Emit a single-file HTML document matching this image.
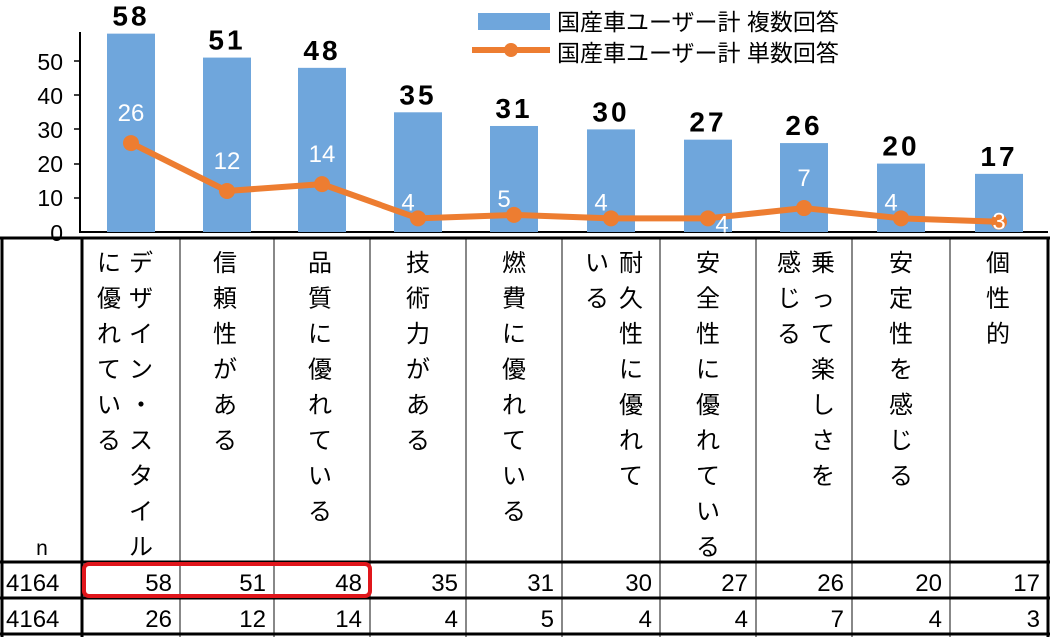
<!DOCTYPE html>
<html><head><meta charset="utf-8"><style>
html,body{margin:0;padding:0;background:#fff;}
svg{display:block;font-family:"Liberation Sans","Noto Sans CJK JP",sans-serif;}
</style></head><body>
<svg id="s" width="1058" height="637" viewBox="0 0 1058 637" xmlns="http://www.w3.org/2000/svg">
<rect width="1058" height="637" fill="#fff"/>
<line x1="80" y1="32" x2="80" y2="233" stroke="#000" stroke-width="2"/>
<line x1="79" y1="232" x2="1048" y2="232" stroke="#000" stroke-width="2"/>
<g font-size="23" text-anchor="end" fill="#000">
<text x="63" y="241">0</text><text x="63" y="206">10</text><text x="63" y="172">20</text>
<text x="63" y="138">30</text><text x="63" y="104">40</text><text x="63" y="70">50</text>
</g>
<g stroke="#000" stroke-width="1.5">
<line x1="74" y1="198" x2="80" y2="198"/><line x1="74" y1="164" x2="80" y2="164"/>
<line x1="74" y1="129" x2="80" y2="129"/><line x1="74" y1="95" x2="80" y2="95"/><line x1="74" y1="61" x2="80" y2="61"/>
</g>
<rect x="478" y="13" width="72" height="17" fill="#6fa6dc"/>
<text x="557" y="30" font-size="23">国産車ユーザー計 複数回答</text>
<line x1="472" y1="50" x2="550" y2="50" stroke="#ed7d31" stroke-width="6"/>
<circle cx="511" cy="50" r="7" fill="#ed7d31"/>
<text x="557" y="61" font-size="23">国産車ユーザー計 単数回答</text>
</svg>
<script>
var ns="http://www.w3.org/2000/svg",s=document.getElementById('s');
function el(t,a,txt){var e=document.createElementNS(ns,t);for(var k in a)e.setAttribute(k,a[k]);if(txt!=null)e.textContent=txt;s.appendChild(e);return e;}
var A=[58,51,48,35,31,30,27,26,20,17],B=[26,12,14,4,5,4,4,7,4,3];
var cx=[131,227,322,418,514,611,708,804,901,999];
function Y(v){return 232-v*3.42;}
cx.forEach(function(x,i){
 el('rect',{x:x-24,y:Y(A[i]),width:48,height:232-Y(A[i]),fill:'#6fa6dc'});
 el('text',{x:x,y:Y(A[i])-8,'font-size':28,'font-weight':'bold','text-anchor':'middle','letter-spacing':'3'},String(A[i]));
});
var pts=cx.map(function(x,i){return x+','+Y(B[i]);}).join(' ');
el('polyline',{points:pts,fill:'none',stroke:'#ed7d31','stroke-width':6,'stroke-linejoin':'round'});
cx.forEach(function(x,i){
 el('circle',{cx:x,cy:Y(B[i]),r:8,fill:'#ed7d31'});
 var ly=Y(B[i])-22, lx=x;
 if(B[i]<=5){ly=Y(B[i])-8;lx=x-10;}
 if(i==6){ly=Y(B[i])+14;lx=x+14;}
 if(i==9){ly=Y(B[i])+8;lx=x;}
 el('text',{x:lx,y:ly,'font-size':24,'text-anchor':'middle',fill:'#fff'},String(B[i]));
});
var bx=[82,180,274,370,466,562,660,756,852,950,1048];
for(var i=1;i<bx.length-1;i++) el('line',{x1:bx[i],y1:238,x2:bx[i],y2:637,stroke:'#888','stroke-width':2});
el('line',{x1:82,y1:238,x2:82,y2:637,stroke:'#000','stroke-width':3});
el('line',{x1:2,y1:238,x2:2,y2:637,stroke:'#000','stroke-width':3});
el('line',{x1:1048,y1:238,x2:1048,y2:637,stroke:'#000','stroke-width':3});
[238,562,598,634].forEach(function(y){el('line',{x1:0,y1:y,x2:1050,y2:y,stroke:'#000','stroke-width':3});});
el('text',{x:42,y:555,'font-size':21,'text-anchor':'middle'},'n');
function num(x,y,t,anc){el('text',{x:x,y:y,'font-size':24,'text-anchor':anc},t);}
num(6,591,'4164','start');num(6,627,'4164','start');
for(var i=0;i<10;i++){
 num(bx[i+1]-8,591,String(A[i]),'end');
 num(bx[i+1]-8,627,String(B[i]),'end');
}
el('rect',{x:84,y:564,width:286,height:32,rx:5,fill:'none',stroke:'#e0161b','stroke-width':4});
var cols=[[[141,'デザイン・スタイル'],[109,'に優れている']],[[225,'信頼性がある']],[[320,'品質に優れている']],[[418,'技術力がある']],[[514,'燃費に優れている']],[[631,'耐久性に優れて'],[597,'いる']],[[708,'安全性に優れている']],[[823,'乗って楽しさを'],[789,'感じる']],[[901,'安定性を感じる']],[[998,'個性的']]];
cols.forEach(function(c){c.forEach(function(sc){
 Array.from(sc[1]).forEach(function(k,j){el('text',{x:sc[0],y:271+j*35.5,'font-size':24,'text-anchor':'middle'},k);});
});});
</script>
</body></html>
